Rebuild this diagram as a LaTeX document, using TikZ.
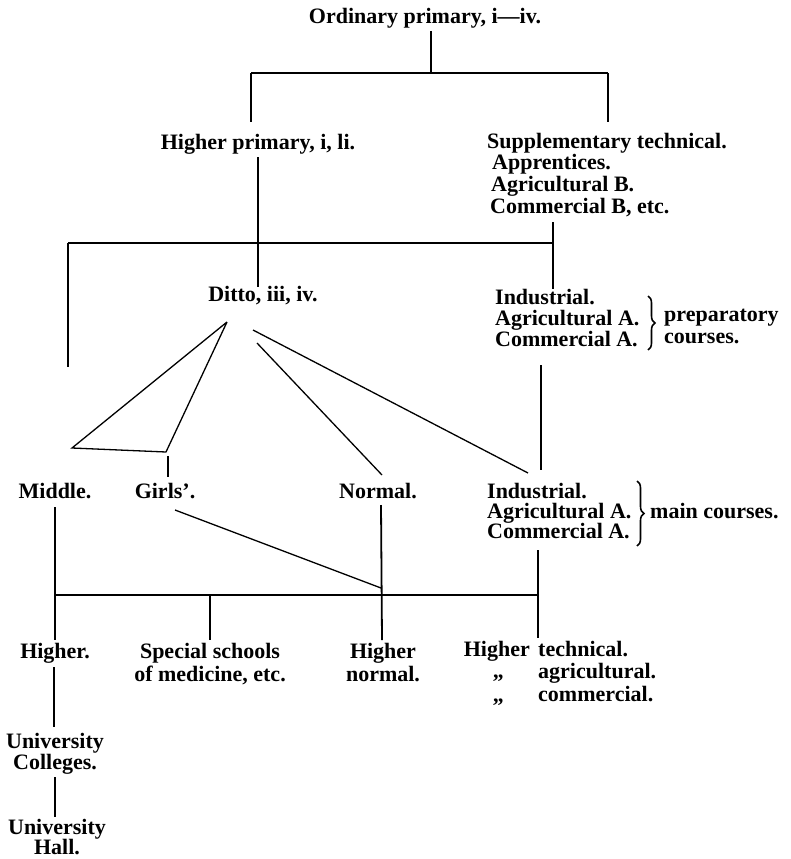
\documentclass[tikz,border=0pt]{standalone}
\usepackage{fontspec}
\setmainfont{Liberation Serif}
\usetikzlibrary{decorations.pathreplacing}
\begin{document}
\begin{tikzpicture}[x=1pt,y=-1pt,
  txt/.style={font=\bfseries\fontsize{22}{23}\selectfont, inner sep=0pt, anchor=base},
  txtw/.style={txt, anchor=base west},
  ln/.style={line width=1.8pt},
  dg/.style={line width=1.3pt},
  brc/.style={decorate, decoration={brace, amplitude=7pt}, line width=1.6pt}]
\useasboundingbox (0,0) rectangle (791,859);

% ---- text nodes ----
\node[txt] (ord) at (425,24) {Ordinary primary, i—iv.};
\node[txt] (hp) at (258,149) {Higher primary, i, li.};
\node[txtw] (sup) at (487,148) {Supplementary technical.};
\node[txtw] (app) at (492,169) {Apprentices.};
\node[txtw] (agb) at (491,191) {Agricultural B.};
\node[txtw] (comb) at (490,213) {Commercial B, etc.};
\node[txt] (ditto) at (263,301) {Ditto, iii, iv.};
\node[txtw] (indp) at (495,304) {Industrial.};
\node[txtw] (agrp) at (495,325) {Agricultural A.};
\node[txtw] (comp) at (495,346) {Commercial A.};
\node[txtw] (prep) at (664,321) {preparatory};
\node[txtw] (prepc) at (664,343) {courses.};
\node[txt] (mid) at (55,498) {Middle.};
\node[txt] (girls) at (165,498) {Girls'.};
\node[txt] (norm) at (378,498) {Normal.};
\node[txtw] (indm) at (487,498) {Industrial.};
\node[txtw] (agrm) at (487,518) {Agricultural A.};
\node[txtw] (comm) at (487,538) {Commercial A.};
\node[txtw] (mainc) at (650,518) {main courses.};
\node[txt] (hi) at (55,658) {Higher.};
\node[txt] (spec) at (210,658) {Special schools};
\node[txt] (spec2) at (210,681) {of medicine, etc.};
\node[txt] (hn) at (383,658) {Higher};
\node[txt] (hn2) at (383,681) {normal.};
\node[txt, anchor=base east] (ht) at (530,656) {Higher};
\node[txtw] (tech) at (538,656) {technical.};
\node[txt, align=center, font=\bfseries\fontsize{22}{24}\selectfont] (q) at (498,713) {”\\”};
\node[txtw] (agr) at (538,678) {agricultural.};
\node[txtw] (com) at (538,701) {commercial.};
\node[txt] (uc) at (55,748) {University};
\node[txt] (uc2) at (55,769) {Colleges.};
\node[txt] (uh) at (57,834) {University};
\node[txt] (uh2) at (57,854) {Hall.};

% ---- junction coordinates ----
\coordinate (a1) at (431,31);
\coordinate (a2) at (431,73);
\coordinate (tl) at (251,73);
\coordinate (tr) at (608,73);
\coordinate (tlb) at (251,122);
\coordinate (trb) at (608,122);
\coordinate (b1) at (258,157);
\coordinate (b2) at (258,243);
\coordinate (b3) at (258,287);
\coordinate (ml) at (68,243);
\coordinate (mlb) at (68,367);
\coordinate (mr) at (553,243);
\coordinate (mrt) at (553,222);
\coordinate (mrb) at (553,289);
\coordinate (dA) at (227,322);
\coordinate (dN) at (257,343);
\coordinate (dI) at (253,330);
\coordinate (mA) at (72,448);
\coordinate (gA) at (166,452);
\coordinate (gT) at (168,456);
\coordinate (gB) at (168,477);
\coordinate (nT) at (382,475);
\coordinate (iT) at (528,473);
\coordinate (pT) at (541,365);
\coordinate (pB) at (541,470);
\coordinate (mdT) at (55,507);
\coordinate (mdB) at (55,640);
\coordinate (gd) at (175,510);
\coordinate (nd) at (381,588);
\coordinate (nvT) at (381,505);
\coordinate (nvB) at (382,640);
\coordinate (bl) at (55,595);
\coordinate (br) at (538,595);
\coordinate (spT) at (210,595);
\coordinate (spB) at (210,640);
\coordinate (itT) at (538,550);
\coordinate (itB) at (538,638);
\coordinate (hiT) at (54,667);
\coordinate (hiB) at (54,727);
\coordinate (ucT) at (55,777);
\coordinate (ucB) at (55,817);

% ---- connectors ----
\draw[ln] (a1) -- (a2);
\draw[ln] (tl) -- (tr);
\draw[ln] (tl) -- (tlb);
\draw[ln] (tr) -- (trb);
\draw[ln] (b1) -- (b2) -- (b3);
\draw[ln] (ml) -- (mr);
\draw[ln] (ml) -- (mlb);
\draw[ln] (mrt) -- (mrb);
\draw[dg] (dA) -- (mA) -- (gA) -- (dA);
\draw[ln] (gT) -- (gB);
\draw[dg] (dN) -- (nT);
\draw[dg] (dI) -- (iT);
\draw[ln] (pT) -- (pB);
\draw[ln] (mdT) -- (mdB);
\draw[dg] (gd) -- (nd);
\draw[ln] (nvT) -- (nvB);
\draw[ln] (bl) -- (br);
\draw[ln] (spT) -- (spB);
\draw[ln] (itT) -- (itB);
\draw[ln] (hiT) -- (hiB);
\draw[ln] (ucT) -- (ucB);

% ---- braces ----
\draw[brc] (648,296) -- (648,350);
\draw[brc] (637,481) -- (637,546);
\end{tikzpicture}
\end{document}
